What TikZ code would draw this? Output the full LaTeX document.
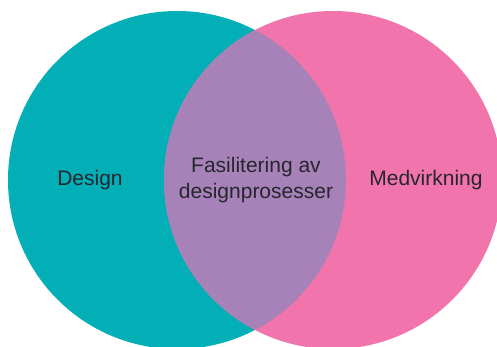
\documentclass[tikz,border=0pt]{standalone}
\usepackage{fontspec}
\setmainfont{Liberation Sans}
\definecolor{teal1}{HTML}{03AFB6}
\definecolor{pink1}{HTML}{F274AC}
\definecolor{lens1}{HTML}{A682B8}
\definecolor{txt1}{HTML}{26262E}
\begin{document}
\begin{tikzpicture}[x=1pt,y=-1pt,
  lbl/.style={text=txt1,font=\fontsize{21}{26}\selectfont,align=center,inner sep=0pt}]
\useasboundingbox (0,0) rectangle (497,346);
\clip (0,0) rectangle (497,346);
\fill[teal1] (177,180) circle[radius=169];
\fill[pink1] (333,180) circle[radius=169];
\begin{scope}
  \clip (177,180) circle[radius=169];
  \fill[lens1] (333,180) circle[radius=169];
\end{scope}
\node[lbl] (design) at (90,180) {Design};
\node[lbl] (fasil) at (256,180) {Fasilitering av\\designprosesser};
\node[lbl] (medv) at (426,180) {Medvirkning};
\end{tikzpicture}
\end{document}
